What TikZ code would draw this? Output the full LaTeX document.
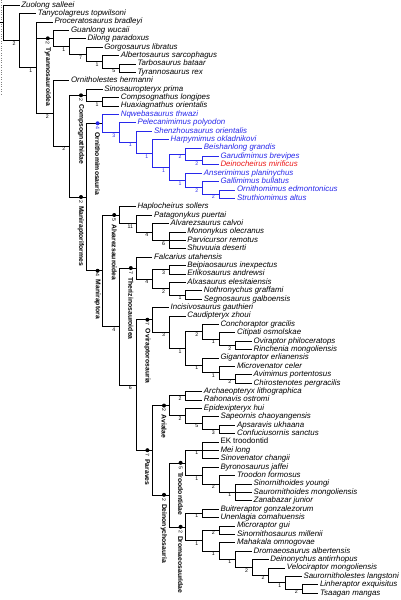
\documentclass[tikz,border=0pt]{standalone}
\usepackage{fontspec}
\setmainfont{Liberation Sans}
\usetikzlibrary{positioning,calc}
\definecolor{omblue}{RGB}{40,40,235}
\definecolor{deinored}{RGB}{235,25,25}

\begin{document}
\begin{tikzpicture}[x=1pt, y=-1pt,
taxon/.style={anchor=west, inner sep=1.5pt, font=\fontsize{7.9}{8}\selectfont\itshape, text height=5.7pt, text depth=1.7pt},
support/.style={anchor=north, inner sep=0pt, xshift=-5.5pt, yshift=-1pt, font=\fontsize{5.2}{5}\selectfont},
cladedot/.style={circle, fill=black, minimum size=4pt, inner sep=0pt, xshift=-5pt},
cladenum/.style={anchor=west, rotate=-90, inner sep=0pt, font=\fontsize{5.2}{5}\selectfont},
clade/.style={anchor=west, rotate=-90, inner sep=0pt, font=\fontsize{6.8}{6.8}\selectfont\bfseries},
branch/.style={line width=0.6pt},
]
\useasboundingbox (0,0) rectangle (400,600);
\draw[gray, dotted] (0.7,0) -- (0.7,95);

% internal nodes
\coordinate (base) at (0,22.75);
\coordinate (root) at (3,22.75);
\coordinate (n1) at (19.6,40.5);
\coordinate (n2) at (36.2,67.59);
\coordinate (tyr) at (52.8,38.34);
\coordinate (tyr1) at (69.4,46.48);
\coordinate (tyr2) at (86,54.35);
\coordinate (tyr3) at (102.6,61.7);
\coordinate (tyr4) at (119.2,68);
\coordinate (n3) at (52.8,113.38);
\coordinate (n4) at (69.4,146.16);
\coordinate (comp) at (86,95.3);
\coordinate (comp1) at (102.6,101.6);
\coordinate (mrf) at (86,197.02);
\coordinate (orn) at (102.6,123.29);
\coordinate (orn1) at (119.2,132.38);
\coordinate (orn2) at (135.8,142.16);
\coordinate (orn3) at (152.4,153.31);
\coordinate (orn4) at (169,167.23);
\coordinate (orn5) at (185.6,154.1);
\coordinate (orn7) at (202.2,160.4);
\coordinate (orn6) at (185.6,180.35);
\coordinate (orn8) at (202.2,187.7);
\coordinate (orn9) at (218.8,194);
\coordinate (mra) at (102.6,270.75);
\coordinate (alv) at (119.2,215);
\coordinate (alv1) at (135.8,223.4);
\coordinate (alv2) at (152.4,231.8);
\coordinate (alv3) at (169,240.2);
\coordinate (mra1) at (119.2,326.5);
\coordinate (thz) at (135.8,268.03);
\coordinate (thz1) at (152.4,279.05);
\coordinate (thz2) at (169,269.6);
\coordinate (thz3) at (169,288.5);
\coordinate (thz4) at (185.6,294.8);
\coordinate (mra2) at (135.8,384.97);
\coordinate (ovi) at (152.4,319.74);
\coordinate (ovi1) at (169,332.08);
\coordinate (ovi2) at (185.6,348.35);
\coordinate (ovi3) at (202.2,331.55);
\coordinate (ovi3a) at (218.8,338.9);
\coordinate (ovi3b) at (235.4,345.2);
\coordinate (ovi5) at (202.2,365.15);
\coordinate (ovi5a) at (218.8,372.5);
\coordinate (ovi5b) at (235.4,378.8);
\coordinate (par) at (152.4,450.2);
\coordinate (avi) at (169,405.58);
\coordinate (avi1) at (185.6,395.6);
\coordinate (avi2) at (185.6,415.55);
\coordinate (avi3) at (202.2,422.9);
\coordinate (avi4) at (218.8,429.2);
\coordinate (dei) at (169,494.81);
\coordinate (tro) at (185.6,462.8);
\coordinate (tro1) at (202.2,450.2);
\coordinate (tro2) at (202.2,475.4);
\coordinate (tro3) at (218.8,483.8);
\coordinate (tro4) at (235.4,492.2);
\coordinate (dro) at (185.6,526.82);
\coordinate (dro1) at (202.2,513.2);
\coordinate (dro2) at (202.2,540.43);
\coordinate (dro3) at (218.8,530);
\coordinate (dro4) at (218.8,550.87);
\coordinate (dro5) at (235.4,559.14);
\coordinate (dro6) at (252,567.28);
\coordinate (dro7) at (268.6,575.15);
\coordinate (dro8) at (285.2,582.5);
\coordinate (dro9) at (301.8,588.8);

% taxa
\node[taxon] (zuolong) at (19.6,5) {Zuolong salleei};
\node[taxon] (tanycolagreus) at (36.2,13.4) {Tanycolagreus topwilsoni};
\node[taxon] (proceratosaurus) at (52.8,21.8) {Proceratosaurus bradleyi};
\node[taxon] (guanlong) at (69.4,30.2) {Guanlong wucaii};
\node[taxon] (dilong) at (86,38.6) {Dilong paradoxus};
\node[taxon] (gorgosaurus) at (102.6,47) {Gorgosaurus libratus};
\node[taxon] (albertosaurus) at (119.2,55.4) {Albertosaurus sarcophagus};
\node[taxon] (tarbosaurus) at (135.8,63.8) {Tarbosaurus bataar};
\node[taxon] (tyrannosaurus) at (135.8,72.2) {Tyrannosaurus rex};
\node[taxon] (ornitholestes) at (69.4,80.6) {Ornitholestes hermanni};
\node[taxon] (sinosauropteryx) at (102.6,89) {Sinosauropteryx prima};
\node[taxon] (compsognathus) at (119.2,97.4) {Compsognathus longipes};
\node[taxon] (huaxiagnathus) at (119.2,105.8) {Huaxiagnathus orientalis};
\node[taxon, omblue] (nqwebasaurus) at (119.2,114.2) {Nqwebasaurus thwazi};
\node[taxon, omblue] (pelecanimimus) at (135.8,122.6) {Pelecanimimus polyodon};
\node[taxon, omblue] (shenzhousaurus) at (152.4,131) {Shenzhousaurus orientalis};
\node[taxon, omblue] (harpymimus) at (169,139.4) {Harpymimus okladnikovi};
\node[taxon, omblue] (beishanlong) at (202.2,147.8) {Beishanlong grandis};
\node[taxon, omblue] (garudimimus) at (218.8,156.2) {Garudimimus brevipes};
\node[taxon, deinored] (deinocheirus) at (218.8,164.6) {Deinocheirus mirificus};
\node[taxon, omblue] (anserimimus) at (202.2,173) {Anserimimus planinychus};
\node[taxon, omblue] (gallimimus) at (218.8,181.4) {Gallimimus bullatus};
\node[taxon, omblue] (ornithomimus) at (235.4,189.8) {Ornithomimus edmontonicus};
\node[taxon, omblue] (struthiomimus) at (235.4,198.2) {Struthiomimus altus};
\node[taxon] (haplocheirus) at (135.8,206.6) {Haplocheirus sollers};
\node[taxon] (patagonykus) at (152.4,215) {Patagonykus puertai};
\node[taxon] (alvarezsaurus) at (169,223.4) {Alvarezsaurus calvoi};
\node[taxon] (mononykus) at (185.6,231.8) {Mononykus olecranus};
\node[taxon] (parvicursor) at (185.6,240.2) {Parvicursor remotus};
\node[taxon] (shuvuuia) at (185.6,248.6) {Shuvuuia deserti};
\node[taxon] (falcarius) at (152.4,257) {Falcarius utahensis};
\node[taxon] (beipiaosaurus) at (185.6,265.4) {Beipiaosaurus inexpectus};
\node[taxon] (erlikosaurus) at (185.6,273.8) {Erlikosaurus andrewsi};
\node[taxon] (alxasaurus) at (185.6,282.2) {Alxasaurus elesitaiensis};
\node[taxon] (nothronychus) at (202.2,290.6) {Nothronychus graffami};
\node[taxon] (segnosaurus) at (202.2,299) {Segnosaurus galboensis};
\node[taxon] (incisivosaurus) at (169,307.4) {Incisivosaurus gauthieri};
\node[taxon] (caudipteryx) at (185.6,315.8) {Caudipteryx zhoui};
\node[taxon] (conchoraptor) at (218.8,324.2) {Conchoraptor gracilis};
\node[taxon] (citipati) at (235.4,332.6) {Citipati osmolskae};
\node[taxon] (oviraptor) at (252,341) {Oviraptor philoceratops};
\node[taxon] (rinchenia) at (252,349.4) {Rinchenia mongoliensis};
\node[taxon] (gigantoraptor) at (218.8,357.8) {Gigantoraptor erlianensis};
\node[taxon] (microvenator) at (235.4,366.2) {Microvenator celer};
\node[taxon] (avimimus) at (252,374.6) {Avimimus portentosus};
\node[taxon] (chirostenotes) at (252,383) {Chirostenotes pergracilis};
\node[taxon] (archaeopteryx) at (202.2,391.4) {Archaeopteryx lithographica};
\node[taxon] (rahonavis) at (202.2,399.8) {Rahonavis ostromi};
\node[taxon] (epidexipteryx) at (202.2,408.2) {Epidexipteryx hui};
\node[taxon] (sapeornis) at (218.8,416.6) {Sapeornis chaoyangensis};
\node[taxon] (apsaravis) at (235.4,425) {Apsaravis ukhaana};
\node[taxon] (confuciusornis) at (235.4,433.4) {Confuciusornis sanctus};
\node[taxon, font=\fontsize{7.9}{8}\selectfont\upshape] (ektroodontid) at (218.8,441.8) {EK troodontid};
\node[taxon] (meilong) at (218.8,450.2) {Mei long};
\node[taxon] (sinovenator) at (218.8,458.6) {Sinovenator changii};
\node[taxon] (byronosaurus) at (218.8,467) {Byronosaurus jaffei};
\node[taxon] (troodon) at (235.4,475.4) {Troodon formosus};
\node[taxon] (sinornithoides) at (252,483.8) {Sinornithoides youngi};
\node[taxon] (saurornithoides) at (252,492.2) {Saurornithoides mongoliensis};
\node[taxon] (zanabazar) at (252,500.6) {Zanabazar junior};
\node[taxon] (buitreraptor) at (218.8,509) {Buitreraptor gonzalezorum};
\node[taxon] (unenlagia) at (218.8,517.4) {Unenlagia comahuensis};
\node[taxon] (microraptor) at (235.4,525.8) {Microraptor gui};
\node[taxon] (sinornithosaurus) at (235.4,534.2) {Sinornithosaurus millenii};
\node[taxon] (mahakala) at (235.4,542.6) {Mahakala omnogovae};
\node[taxon] (dromaeosaurus) at (252,551) {Dromaeosaurus albertensis};
\node[taxon] (deinonychus) at (268.6,559.4) {Deinonychus antirrhopus};
\node[taxon] (velociraptor) at (285.2,567.8) {Velociraptor mongoliensis};
\node[taxon] (saurornitholestes) at (301.8,576.2) {Saurornitholestes langstoni};
\node[taxon] (linheraptor) at (318.4,584.6) {Linheraptor exquisitus};
\node[taxon] (tsaagan) at (318.4,593) {Tsaagan mangas};

% branches
\draw[branch] (base) -- (root);
\draw[branch] (root) |- (zuolong) (root) |- (n1);
\draw[branch] (n1) |- (tanycolagreus) (n1) |- (n2);
\draw[branch] (n2) |- (proceratosaurus) (n2) |- (tyr) (n2) |- (n3);
\draw[branch] (tyr) |- (guanlong) (tyr) |- (tyr1);
\draw[branch] (tyr1) |- (dilong) (tyr1) |- (tyr2);
\draw[branch] (tyr2) |- (gorgosaurus) (tyr2) |- (tyr3);
\draw[branch] (tyr3) |- (albertosaurus) (tyr3) |- (tyr4);
\draw[branch] (tyr4) |- (tarbosaurus) (tyr4) |- (tyrannosaurus);
\draw[branch] (n3) |- (ornitholestes) (n3) |- (n4);
\draw[branch] (n4) |- (comp) (n4) |- (mrf);
\draw[branch] (comp) |- (sinosauropteryx) (comp) |- (comp1);
\draw[branch] (comp1) |- (compsognathus) (comp1) |- (huaxiagnathus);
\draw[branch] (mrf) |- (orn) (mrf) |- (mra);
\begin{scope}[omblue]
\draw[branch] (orn) |- (nqwebasaurus) (orn) |- (orn1);
\draw[branch] (orn1) |- (pelecanimimus) (orn1) |- (orn2);
\draw[branch] (orn2) |- (shenzhousaurus) (orn2) |- (orn3);
\draw[branch] (orn3) |- (harpymimus) (orn3) |- (orn4);
\draw[branch] (orn4) |- (orn5) (orn4) |- (orn6);
\draw[branch] (orn5) |- (beishanlong) (orn5) |- (orn7);
\draw[branch] (orn7) |- (garudimimus) (orn7) |- (deinocheirus);
\draw[branch] (orn6) |- (anserimimus) (orn6) |- (orn8);
\draw[branch] (orn8) |- (gallimimus) (orn8) |- (orn9);
\draw[branch] (orn9) |- (ornithomimus) (orn9) |- (struthiomimus);
\end{scope}
\draw[branch] (mra) |- (alv) (mra) |- (mra1);
\draw[branch] (alv) |- (haplocheirus) (alv) |- (alv1);
\draw[branch] (alv1) |- (patagonykus) (alv1) |- (alv2);
\draw[branch] (alv2) |- (alvarezsaurus) (alv2) |- (alv3);
\draw[branch] (alv3) |- (mononykus) (alv3) |- (parvicursor) (alv3) |- (shuvuuia);
\draw[branch] (mra1) |- (thz) (mra1) |- (mra2);
\draw[branch] (thz) |- (falcarius) (thz) |- (thz1);
\draw[branch] (thz1) |- (thz2) (thz1) |- (thz3);
\draw[branch] (thz2) |- (beipiaosaurus) (thz2) |- (erlikosaurus);
\draw[branch] (thz3) |- (alxasaurus) (thz3) |- (thz4);
\draw[branch] (thz4) |- (nothronychus) (thz4) |- (segnosaurus);
\draw[branch] (mra2) |- (ovi) (mra2) |- (par);
\draw[branch] (ovi) |- (incisivosaurus) (ovi) |- (ovi1);
\draw[branch] (ovi1) |- (caudipteryx) (ovi1) |- (ovi2);
\draw[branch] (ovi2) |- (ovi3) (ovi2) |- (ovi5);
\draw[branch] (ovi3) |- (conchoraptor) (ovi3) |- (ovi3a);
\draw[branch] (ovi3a) |- (citipati) (ovi3a) |- (ovi3b);
\draw[branch] (ovi3b) |- (oviraptor) (ovi3b) |- (rinchenia);
\draw[branch] (ovi5) |- (gigantoraptor) (ovi5) |- (ovi5a);
\draw[branch] (ovi5a) |- (microvenator) (ovi5a) |- (ovi5b);
\draw[branch] (ovi5b) |- (avimimus) (ovi5b) |- (chirostenotes);
\draw[branch] (par) |- (avi) (par) |- (dei);
\draw[branch] (avi) |- (avi1) (avi) |- (avi2);
\draw[branch] (avi1) |- (archaeopteryx) (avi1) |- (rahonavis);
\draw[branch] (avi2) |- (epidexipteryx) (avi2) |- (avi3);
\draw[branch] (avi3) |- (sapeornis) (avi3) |- (avi4);
\draw[branch] (avi4) |- (apsaravis) (avi4) |- (confuciusornis);
\draw[branch] (dei) |- (tro) (dei) |- (dro);
\draw[branch] (tro) |- (tro1) (tro) |- (tro2);
\draw[branch] (tro1) |- (ektroodontid) (tro1) |- (meilong) (tro1) |- (sinovenator);
\draw[branch] (tro2) |- (byronosaurus) (tro2) |- (tro3);
\draw[branch] (tro3) |- (troodon) (tro3) |- (tro4);
\draw[branch] (tro4) |- (sinornithoides) (tro4) |- (saurornithoides) (tro4) |- (zanabazar);
\draw[branch] (dro) |- (dro1) (dro) |- (dro2);
\draw[branch] (dro1) |- (buitreraptor) (dro1) |- (unenlagia);
\draw[branch] (dro2) |- (dro3) (dro2) |- (dro4);
\draw[branch] (dro3) |- (microraptor) (dro3) |- (sinornithosaurus);
\draw[branch] (dro4) |- (mahakala) (dro4) |- (dro5);
\draw[branch] (dro5) |- (dromaeosaurus) (dro5) |- (dro6);
\draw[branch] (dro6) |- (deinonychus) (dro6) |- (dro7);
\draw[branch] (dro7) |- (velociraptor) (dro7) |- (dro8);
\draw[branch] (dro8) |- (saurornitholestes) (dro8) |- (dro9);
\draw[branch] (dro9) |- (linheraptor) (dro9) |- (tsaagan);

% support values
\node[support] (n1-s) at (n1) {2};
\node[support] (n2-s) at (n2) {1};
\node[support] (tyr1-s) at (tyr1) {1};
\node[support] (tyr2-s) at (tyr2) {7};
\node[support] (tyr3-s) at (tyr3) {1};
\node[support] (tyr4-s) at (tyr4) {5};
\node[support] (n3-s) at (n3) {2};
\node[support] (n4-s) at (n4) {2};
\node[support] (comp1-s) at (comp1) {1};
\node[support, omblue] (orn1-s) at (orn1) {3};
\node[support, omblue] (orn2-s) at (orn2) {1};
\node[support, omblue] (orn3-s) at (orn3) {1};
\node[support, omblue] (orn4-s) at (orn4) {1};
\node[support, omblue] (orn5-s) at (orn5) {2};
\node[support, omblue] (orn7-s) at (orn7) {2};
\node[support, omblue] (orn6-s) at (orn6) {1};
\node[support, omblue] (orn8-s) at (orn8) {2};
\node[support, omblue] (orn9-s) at (orn9) {2};
\node[support] (alv1-s) at (alv1) {11};
\node[support] (alv2-s) at (alv2) {4};
\node[support] (alv3-s) at (alv3) {6};
\node[support] (mra1-s) at (mra1) {4};
\node[support] (thz1-s) at (thz1) {4};
\node[support] (thz2-s) at (thz2) {3};
\node[support] (thz3-s) at (thz3) {2};
\node[support] (thz4-s) at (thz4) {1};
\node[support] (mra2-s) at (mra2) {6};
\node[support] (ovi1-s) at (ovi1) {3};
\node[support] (ovi2-s) at (ovi2) {1};
\node[support] (ovi3-s) at (ovi3) {2};
\node[support] (ovi3a-s) at (ovi3a) {1};
\node[support] (ovi3b-s) at (ovi3b) {2};
\node[support] (ovi5-s) at (ovi5) {1};
\node[support] (ovi5a-s) at (ovi5a) {1};
\node[support] (ovi5b-s) at (ovi5b) {2};
\node[support] (avi1-s) at (avi1) {2};
\node[support] (avi2-s) at (avi2) {2};
\node[support] (avi3-s) at (avi3) {5};
\node[support] (avi4-s) at (avi4) {3};
\node[support] (tro1-s) at (tro1) {1};
\node[support] (tro2-s) at (tro2) {1};
\node[support] (tro3-s) at (tro3) {2};
\node[support] (tro4-s) at (tro4) {1};
\node[support] (dro1-s) at (dro1) {1};
\node[support] (dro2-s) at (dro2) {1};
\node[support] (dro3-s) at (dro3) {2};
\node[support] (dro4-s) at (dro4) {1};
\node[support] (dro5-s) at (dro5) {1};
\node[support] (dro6-s) at (dro6) {2};
\node[support] (dro7-s) at (dro7) {2};
\node[support] (dro8-s) at (dro8) {1};
\node[support] (dro9-s) at (dro9) {2};

% named clades
\node[cladedot] (tyr-dot) at (tyr) {};
\node[cladenum] (tyr-s) at ($(tyr)+(-5,3)$) {2};
\node[clade] (tyr-name) at ($(tyr)+(-5,9)$) {Tyrannosauroidea};
\node[cladedot] (comp-dot) at (comp) {};
\node[cladenum] (comp-s) at ($(comp)+(-5,3)$) {2};
\node[clade] (comp-name) at ($(comp)+(-5,9)$) {Compsognathidae};
\node[cladedot, fill=omblue] (orn-dot) at (orn) {};
\node[cladenum, omblue] (orn-s) at ($(orn)+(-5,3)$) {4};
\node[clade] (orn-name) at ($(orn)+(-5,9)$) {Ornithomimosauria};
\node[cladedot] (mrf-dot) at (mrf) {};
\node[cladenum] (mrf-s) at ($(mrf)+(-5,3)$) {2};
\node[clade] (mrf-name) at ($(mrf)+(-5,9)$) {Maniraptoriformes};
\node[cladedot] (mra-dot) at (mra) {};
\node[cladenum] (mra-s) at ($(mra)+(-5,3)$) {4};
\node[clade] (mra-name) at ($(mra)+(-5,9)$) {Maniraptora};
\node[cladedot] (alv-dot) at (alv) {};
\node[cladenum] (alv-s) at ($(alv)+(-5,3)$) {5};
\node[clade] (alv-name) at ($(alv)+(-5,9)$) {Alvarezsauroidea};
\node[cladedot] (thz-dot) at (thz) {};
\node[cladenum] (thz-s) at ($(thz)+(-5,3)$) {7};
\node[clade] (thz-name) at ($(thz)+(-5,9)$) {Therizinosauroidea};
\node[cladedot] (ovi-dot) at (ovi) {};
\node[cladenum] (ovi-s) at ($(ovi)+(-5,3)$) {7};
\node[clade] (ovi-name) at ($(ovi)+(-5,9)$) {Oviraptorosauria};
\node[cladedot] (par-dot) at (par) {};
\node[cladenum] (par-s) at ($(par)+(-5,3)$) {7};
\node[clade] (par-name) at ($(par)+(-5,9)$) {Paraves};
\node[cladedot] (avi-dot) at (avi) {};
\node[cladenum] (avi-s) at ($(avi)+(-5,3)$) {2};
\node[clade] (avi-name) at ($(avi)+(-5,9)$) {Avialae};
\node[cladedot] (dei-dot) at (dei) {};
\node[cladenum] (dei-s) at ($(dei)+(-5,3)$) {2};
\node[clade] (dei-name) at ($(dei)+(-5,9)$) {Deinonychosauria};
\node[cladedot] (tro-dot) at (tro) {};
\node[cladenum] (tro-s) at ($(tro)+(-5,3)$) {5};
\node[clade] (tro-name) at ($(tro)+(-5,9)$) {Troodontidae};
\node[cladedot] (dro-dot) at (dro) {};
\node[cladenum] (dro-s) at ($(dro)+(-5,3)$) {2};
\node[clade] (dro-name) at ($(dro)+(-5,9)$) {Dromaeosauridae};

\end{tikzpicture}
\end{document}
